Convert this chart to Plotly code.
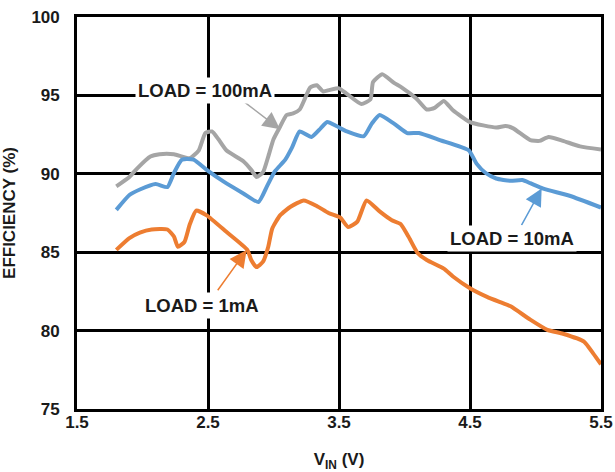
import plotly.graph_objects as go

# ---- data ----
vin_100mA = [1.80, 1.90, 1.96, 2.06, 2.13, 2.24, 2.36, 2.43, 2.48, 2.53, 2.58, 2.64, 2.77, 2.83, 2.87,
             2.92, 2.96, 3.00, 3.05, 3.10, 3.15, 3.20, 3.24, 3.28, 3.33, 3.38, 3.43, 3.50, 3.56, 3.67,
             3.74, 3.76, 3.83, 3.92, 3.98, 4.09, 4.17, 4.23, 4.30, 4.37, 4.50, 4.70, 4.77, 4.83, 4.96,
             5.03, 5.10, 5.21, 5.34, 5.50]
eff_100mA = [89.2, 89.8, 90.35, 91.1, 91.25, 91.25, 91.0, 91.5, 92.6, 92.7, 92.2, 91.5, 90.8, 90.25, 89.8,
             90.1, 91.1, 92.2, 93.0, 93.75, 93.85, 94.1, 94.8, 95.5, 95.65, 95.25, 95.35, 95.45, 95.1, 94.45,
             94.75, 95.85, 96.35, 95.8, 95.5, 94.8, 94.1, 94.2, 94.65, 94.05, 93.3, 92.95, 93.05, 92.9, 92.15,
             92.1, 92.35, 92.1, 91.75, 91.55]

vin_10mA = [1.80, 1.90, 1.98, 2.10, 2.19, 2.24, 2.30, 2.39, 2.49, 2.62, 2.77, 2.885, 2.95, 3.01, 3.09,
            3.14, 3.20, 3.29, 3.36, 3.41, 3.48, 3.56, 3.69, 3.75, 3.81, 3.92, 4.02, 4.11, 4.27, 4.49,
            4.55, 4.62, 4.70, 4.81, 4.90, 4.96, 5.06, 5.26, 5.50]
eff_10mA = [87.7, 88.65, 89.0, 89.35, 89.15, 90.05, 90.9, 90.9, 90.25, 89.5, 88.75, 88.2, 89.2, 90.15, 90.9,
            91.65, 92.7, 92.35, 92.9, 93.3, 93.05, 92.7, 92.4, 93.2, 93.75, 93.2, 92.6, 92.6, 92.15, 91.5,
            90.65, 90.05, 89.7, 89.55, 89.6, 89.4, 89.05, 88.6, 87.85]

vin_1mA = [1.80, 1.90, 1.98, 2.07, 2.19, 2.24, 2.27, 2.32, 2.36, 2.41, 2.49, 2.64, 2.80, 2.83, 2.87,
           2.92, 2.96, 2.99, 3.05, 3.13, 3.23, 3.33, 3.42, 3.51, 3.57, 3.64, 3.71, 3.81, 3.90, 3.97,
           4.03, 4.10, 4.17, 4.30, 4.37, 4.50, 4.63, 4.75, 4.81, 4.96, 5.09, 5.21, 5.37, 5.44, 5.50]
eff_1mA = [85.15, 85.9, 86.25, 86.45, 86.45, 86.0, 85.35, 85.65, 86.75, 87.65, 87.35, 86.3, 85.15, 84.5, 84.05,
           84.4, 85.35, 86.5, 87.35, 87.9, 88.3, 87.95, 87.5, 87.2, 86.6, 86.95, 88.3, 87.6, 87.05, 86.8,
           86.0, 84.95, 84.5, 83.95, 83.45, 82.7, 82.15, 81.75, 81.55, 80.7, 80.05, 79.8, 79.3, 78.55, 77.85]

x_ticks = [1.5, 2.5, 3.5, 4.5, 5.5]
y_ticks = [75, 80, 85, 90, 95, 100]

labels = ["LOAD = 100mA", "LOAD = 10mA", "LOAD = 1mA"]
label_pos = [(2.477, 95.34), (4.818, 85.89), (2.454, 81.63)]
arrow_tip = [(3.05, 92.84), (5.047, 89.07), (2.795, 85.14)]
arrow_tail = [(2.757, 94.71), (4.887, 86.63), (2.566, 82.48)]

colors = ["#A5A5A5", "#5B9BD5", "#ED7D31"]
FONT = "Liberation Sans, Arial, sans-serif"
TXT = "#1a1a1a"

fig = go.Figure()
for xs, ys, c in [(vin_100mA, eff_100mA, colors[0]),
                  (vin_10mA, eff_10mA, colors[1]),
                  (vin_1mA, eff_1mA, colors[2])]:
    fig.add_trace(go.Scatter(x=xs, y=ys, mode="lines",
                             line=dict(color=c, width=4, shape="spline", smoothing=0.5),
                             showlegend=False, hoverinfo="skip"))

annotations = []
for lab, (tx, ty), (hx, hy), (sx, sy), c in zip(labels, label_pos, arrow_tip, arrow_tail, colors):
    annotations.append(dict(x=hx, y=hy, ax=sx, ay=sy, xref="x", yref="y", axref="x", ayref="y",
                            text="", showarrow=True, arrowhead=2, arrowsize=2.3, arrowwidth=1.5,
                            arrowcolor=c))
    annotations.append(dict(x=tx, y=ty, xref="x", yref="y", text="<b>" + lab + "</b>",
                            showarrow=False, bgcolor="white", borderpad=2,
                            font=dict(family=FONT, size=18.5, color=TXT)))

fig.update_layout(
    width=615, height=472,
    margin=dict(l=77, r=14, t=17, b=63),
    paper_bgcolor="white", plot_bgcolor="white",
    font=dict(family=FONT, size=17, color=TXT),
    annotations=annotations,
    xaxis=dict(range=[1.5, 5.5], tickvals=x_ticks, ticktext=[f"{v:.1f}" for v in x_ticks],
               showgrid=True, gridcolor="black", gridwidth=2.5,
               showline=True, linecolor="black", linewidth=2.7, mirror=True,
               ticks="", ticklabelstandoff=-4, zeroline=False, automargin=False,
               tickfont=dict(family=FONT, size=17, weight="bold", color=TXT),
               title=dict(text="<b>V<sub>IN</sub> (V)</b>", standoff=27,
                          font=dict(family=FONT, size=17, color=TXT))),
    yaxis=dict(range=[75, 100], tickvals=y_ticks,
               showgrid=True, gridcolor="black", gridwidth=2.5,
               showline=True, linecolor="black", linewidth=2.7, mirror=True,
               ticks="", ticklabelstandoff=11, zeroline=False, automargin=False,
               tickfont=dict(family=FONT, size=17, weight="bold", color=TXT),
               title=dict(text="<b>EFFICIENCY (%)</b>", standoff=13,
                          font=dict(family=FONT, size=17, color=TXT))),
)

fig.write_html("out.html", config={"displayModeBar": False},
               post_script="document.body.style.margin='0';document.body.style.overflow='hidden';")
